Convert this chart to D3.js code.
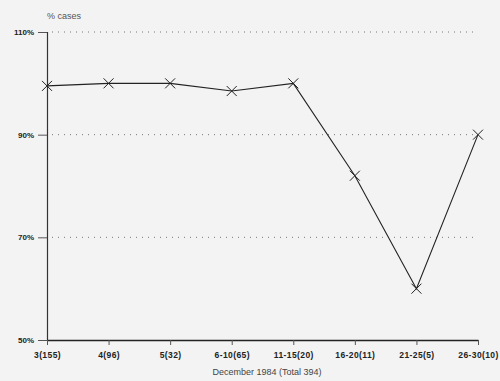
<!DOCTYPE html>
<html><head><meta charset="utf-8">
<script src="https://cdn.jsdelivr.net/npm/d3@7"></script>
<style>body{margin:0;background:#f3f3f3;}svg{display:block;}</style>
</head><body>
<script>
const categories = ["3(155)","4(96)","5(32)","6-10(65)","11-15(20)","16-20(11)","21-25(5)","26-30(10)"];
const values = [99.5, 100, 100, 98.5, 100, 82, 60, 90];
const yTicks = [50, 70, 90, 110];
const yTickLabels = ["50%","70%","90%","110%"];
const gridTicks = [70, 90, 110];

const W = 500, H = 381;
const svg = d3.select("body").append("svg").attr("width", W).attr("height", H);
svg.append("rect").attr("width", W).attr("height", H).attr("fill", "#f3f3f3");

const x = d3.scalePoint().domain(categories).range([47, 478]);
const y = d3.scaleLinear().domain([50, 110]).range([340, 32]);

// grid
svg.append("g").selectAll("line").data(gridTicks).join("line")
  .attr("x1", 52).attr("x2", 478)
  .attr("y1", d => y(d)).attr("y2", d => y(d))
  .attr("stroke", "#777").attr("stroke-width", 1).attr("stroke-dasharray", "1,5");

// y axis
const yAxis = d3.axisLeft(y).tickValues(yTicks).tickSize(9).tickPadding(4)
  .tickFormat((d, i) => yTickLabels[i]);
const gy = svg.append("g").attr("transform", "translate(47,0)").call(yAxis);
gy.select(".domain").attr("stroke", "#333").attr("stroke-width", 1.2);
gy.selectAll(".tick line").attr("stroke", "#555");
gy.selectAll("text").attr("font-family", "Liberation Sans, Arial, sans-serif")
  .attr("font-size", 8).attr("font-weight", "bold").attr("fill", "#222");

// x axis
const xAxis = d3.axisBottom(x).tickSize(5).tickPadding(7).tickSizeOuter(0);
const gx = svg.append("g").attr("transform", "translate(0,340)").call(xAxis);
gx.select(".domain").attr("stroke", "#222").attr("stroke-width", 1.4);
gx.selectAll(".tick line").attr("stroke", "#555");
gx.selectAll("text").attr("font-family", "Liberation Sans, Arial, sans-serif")
  .attr("font-size", 8.5).attr("font-weight", "bold").attr("letter-spacing", 0.4).attr("fill", "#222");

// line
const line = d3.line().x((d, i) => x(categories[i])).y(d => y(d));
svg.append("path").datum(values).attr("d", line)
  .attr("fill", "none").attr("stroke", "#222").attr("stroke-width", 1.1);

// X markers
const s = 5;
svg.append("g").selectAll("path").data(values).join("path")
  .attr("d", (d, i) => {
    const cx = x(categories[i]), cy = y(d);
    return `M${cx-s},${cy-s}L${cx+s},${cy+s}M${cx-s},${cy+s}L${cx+s},${cy-s}`;
  })
  .attr("stroke", "#222").attr("stroke-width", 1).attr("fill", "none");

// titles
svg.append("text").attr("x", 47).attr("y", 19).text("% cases")
  .attr("font-family", "Liberation Sans, Arial, sans-serif").attr("font-size", 9).attr("fill", "#555");
svg.append("text").attr("x", 267).attr("y", 375).attr("text-anchor", "middle").text("December 1984 (Total 394)")
  .attr("font-family", "Liberation Sans, Arial, sans-serif").attr("font-size", 9).attr("fill", "#444");
</script>
</body></html>
